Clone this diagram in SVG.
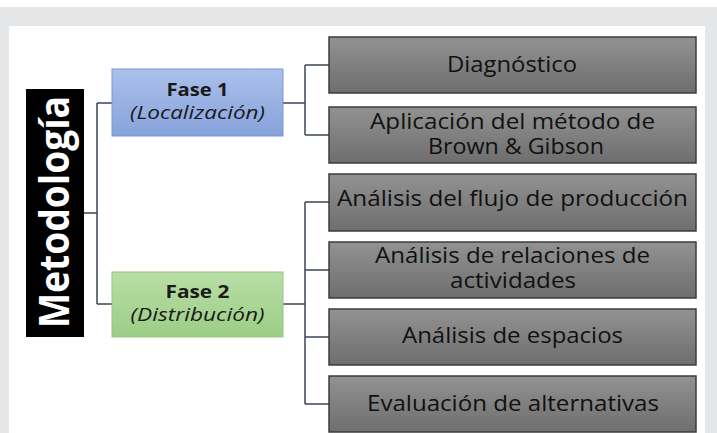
<svg xmlns="http://www.w3.org/2000/svg" width="717" height="433" viewBox="0 0 717 433">
<defs>
<linearGradient id="gBlue" x1="0" y1="0" x2="0" y2="1"><stop offset="0" stop-color="#abc0ea"/><stop offset="1" stop-color="#87a2dc"/></linearGradient>
<linearGradient id="gGreen" x1="0" y1="0" x2="0" y2="1"><stop offset="0" stop-color="#b8dea6"/><stop offset="1" stop-color="#9ccd86"/></linearGradient>
<linearGradient id="gGray" x1="0" y1="0" x2="0" y2="1"><stop offset="0" stop-color="#929292"/><stop offset="1" stop-color="#6e6e6e"/></linearGradient>
<style>
.box{fill:url(#gGray);stroke:#3c3c3c;stroke-width:1.5}
.t{font-family:"Open Sans","Noto Sans",sans-serif;font-size:21px;fill:#111;text-anchor:middle}
.ph{font-family:"Open Sans","Noto Sans",sans-serif;font-size:18px;fill:#1a1a1a;text-anchor:middle}
.b{font-weight:bold}
.i{font-style:italic}
.c{fill:none;stroke:#3b4658;stroke-width:1.5}
</style>
</defs>
<rect width="717" height="433" fill="#e5e6e8"/>
<rect x="0" y="0" width="717" height="7" fill="#ffffff"/>
<rect x="9" y="26" width="696" height="407" fill="#ffffff"/>

<g id="connectors">
<path class="c" d="M84,213 H97 M97,103 V304 M97,103 H112 M97,304 H112"/>
<path class="c" d="M283,103 H305 M305,65 V135 M305,65 H329 M305,135 H329"/>
<path class="c" d="M283,304 H305 M305,202 V404 M305,202 H329 M305,270 H329 M305,337 H329 M305,404 H329"/>
</g>

<g id="metodologia">
<rect x="26" y="89" width="58" height="248" fill="#000"/>
<text transform="translate(69,212) rotate(-90)" text-anchor="middle" font-family="'Open Sans','Noto Sans',sans-serif" font-weight="bold" font-size="42" fill="#fff" textLength="232" lengthAdjust="spacingAndGlyphs">Metodología</text>
</g>

<g id="fase1">
<rect x="112" y="69" width="171" height="67" fill="url(#gBlue)" stroke="#7b98d3" stroke-width="1"/>
<text class="ph b" x="197.5" y="96" textLength="62" lengthAdjust="spacingAndGlyphs">Fase 1</text>
<text class="ph i" x="197.5" y="119" textLength="135" lengthAdjust="spacingAndGlyphs">(Localización)</text>
</g>

<g id="fase2">
<rect x="112" y="272" width="171" height="65" fill="url(#gGreen)" stroke="#98c684" stroke-width="1"/>
<text class="ph b" x="197.5" y="298" textLength="64" lengthAdjust="spacingAndGlyphs">Fase 2</text>
<text class="ph i" x="197.5" y="321" textLength="134" lengthAdjust="spacingAndGlyphs">(Distribución)</text>
</g>

<g id="diagnostico">
<rect class="box" x="329" y="37" width="367" height="56"/>
<text class="t" x="512" y="72" textLength="130" lengthAdjust="spacingAndGlyphs">Diagnóstico</text>
</g>
<g id="aplicacion">
<rect class="box" x="329" y="107" width="367" height="56"/>
<text class="t" x="512.5" y="129" textLength="285" lengthAdjust="spacingAndGlyphs">Aplicación del método de</text>
<text class="t" x="516" y="154" textLength="176" lengthAdjust="spacingAndGlyphs">Brown &amp; Gibson</text>
</g>
<g id="flujo">
<rect class="box" x="329" y="174" width="367" height="57"/>
<text class="t" x="512.5" y="206" textLength="351" lengthAdjust="spacingAndGlyphs">Análisis del flujo de producción</text>
</g>
<g id="relaciones">
<rect class="box" x="329" y="242" width="367" height="56"/>
<text class="t" x="512.5" y="263" textLength="275" lengthAdjust="spacingAndGlyphs">Análisis de relaciones de</text>
<text class="t" x="513" y="288" textLength="126" lengthAdjust="spacingAndGlyphs">actividades</text>
</g>
<g id="espacios">
<rect class="box" x="329" y="309" width="367" height="56"/>
<text class="t" x="512.5" y="343" textLength="221" lengthAdjust="spacingAndGlyphs">Análisis de espacios</text>
</g>
<g id="evaluacion">
<rect class="box" x="329" y="376" width="367" height="56"/>
<text class="t" x="513" y="411" textLength="292" lengthAdjust="spacingAndGlyphs">Evaluación de alternativas</text>
</g>
</svg>
